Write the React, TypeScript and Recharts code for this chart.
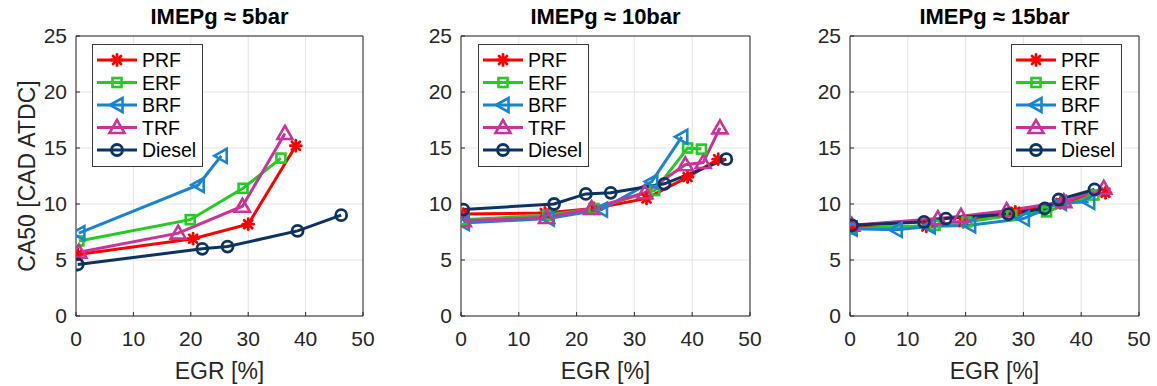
import React from 'react'
import { LineChart, Line, XAxis, YAxis, CartesianGrid, ReferenceLine, Legend } from 'recharts'

const EGR_TICKS = [0, 10, 20, 30, 40, 50]
const CA50_TICKS = [0, 5, 10, 15, 20, 25]
const FUELS = ['PRF', 'ERF', 'BRF', 'TRF', 'Diesel']

// IMEPg ~ 5 bar
const prf5Egr = [0.3, 20.4, 30.0, 38.3]
const prf5Ca50 = [5.5, 6.9, 8.2, 15.2]
const erf5Egr = [0.5, 19.9, 29.1, 35.7]
const erf5Ca50 = [6.7, 8.6, 11.4, 14.1]
const brf5Egr = [0.5, 21.3, 25.3]
const brf5Ca50 = [7.4, 11.7, 14.3]
const trf5Egr = [0.5, 17.8, 29.0, 36.4]
const trf5Ca50 = [5.7, 7.4, 9.8, 16.3]
const diesel5Egr = [0.3, 22.0, 26.4, 38.6, 46.2]
const diesel5Ca50 = [4.6, 6.0, 6.2, 7.6, 9.0]

// IMEPg ~ 10 bar
const prf10Egr = [0.4, 14.5, 23.0, 32.1, 39.2, 44.5]
const prf10Ca50 = [9.1, 9.2, 9.6, 10.5, 12.4, 14.0]
const erf10Egr = [0.4, 15.0, 23.0, 33.5, 39.2, 41.6]
const erf10Ca50 = [8.6, 9.0, 9.6, 11.2, 15.0, 14.9]
const brf10Egr = [0.4, 15.1, 24.3, 33.0, 38.2]
const brf10Ca50 = [8.3, 8.7, 9.5, 12.0, 16.0]
const trf10Egr = [0.4, 14.8, 22.6, 31.8, 38.8, 41.9, 44.8]
const trf10Ca50 = [8.5, 8.8, 9.6, 11.0, 13.5, 13.7, 16.8]
const diesel10Egr = [0.4, 16.1, 21.6, 25.9, 35.2, 45.9]
const diesel10Ca50 = [9.5, 10.0, 10.9, 11.0, 11.8, 14.0]

// IMEPg ~ 15 bar
const prf15Egr = [0.3, 13.2, 19.6, 28.6, 36.4, 44.2]
const prf15Ca50 = [7.9, 8.0, 8.4, 9.3, 10.1, 11.0]
const erf15Egr = [0.3, 14.7, 20.2, 28.0, 34.0, 42.2]
const erf15Ca50 = [7.8, 8.1, 8.4, 9.0, 9.3, 10.8]
const brf15Egr = [0.2, 8.0, 13.7, 20.7, 30.0, 36.4, 41.3]
const brf15Ca50 = [7.8, 7.7, 8.0, 8.1, 8.7, 10.1, 10.2]
const trf15Egr = [0.3, 15.2, 19.2, 27.1, 37.0, 43.9]
const trf15Ca50 = [8.1, 8.7, 8.9, 9.4, 10.2, 11.4]
const diesel15Egr = [0.35, 12.8, 16.6, 27.4, 33.7, 36.1, 42.3]
const diesel15Ca50 = [8.1, 8.4, 8.7, 9.1, 9.6, 10.4, 11.3]

const COLORS: Record<string, string> = {
  PRF: '#ff0000',
  ERF: '#22cc22',
  BRF: '#1a84d0',
  TRF: '#cc3399',
  Diesel: '#0c3461',
}
const SHAPES: Record<string, string> = {
  PRF: 'star',
  ERF: 'square',
  BRF: 'left',
  TRF: 'up',
  Diesel: 'circle',
}

const TEXT = '#262626'
const FONT = '"Liberation Sans", Arial, sans-serif'

const toPoints = (egr: number[], ca50: number[]) => egr.map((x, i) => ({ egr: x, ca50: ca50[i] }))

function Marker({ shape, cx, cy, color }: { shape: string; cx: number; cy: number; color: string }) {
  if (shape === 'star') {
    const r = 5.5
    const d = 4
    return (
      <g stroke={color} strokeWidth={2.8} strokeLinecap="round">
        <line x1={cx - r} y1={cy} x2={cx + r} y2={cy} />
        <line x1={cx} y1={cy - r} x2={cx} y2={cy + r} />
        <line x1={cx - d} y1={cy - d} x2={cx + d} y2={cy + d} />
        <line x1={cx - d} y1={cy + d} x2={cx + d} y2={cy - d} />
      </g>
    )
  }
  if (shape === 'square') {
    return <rect x={cx - 4.5} y={cy - 4.5} width={9} height={9} fill="none" stroke={color} strokeWidth={2.6} />
  }
  if (shape === 'left') {
    return (
      <polygon
        points={`${cx - 7},${cy} ${cx + 5.5},${cy - 7} ${cx + 5.5},${cy + 7}`}
        fill="none"
        stroke={color}
        strokeWidth={2.6}
      />
    )
  }
  if (shape === 'up') {
    return (
      <polygon
        points={`${cx},${cy - 7.5} ${cx - 7.5},${cy + 5.5} ${cx + 7.5},${cy + 5.5}`}
        fill="none"
        stroke={color}
        strokeWidth={2.6}
      />
    )
  }
  return <circle cx={cx} cy={cy} r={5.5} fill="none" stroke={color} strokeWidth={2.8} />
}

const makeDot = (name: string) => (props: any) => {
  const { cx, cy, index } = props
  if (cx == null || cy == null) return <g key={`dot-${name}-${index}`} />
  return (
    <g key={`dot-${name}-${index}`}>
      <Marker shape={SHAPES[name]} cx={cx} cy={cy} color={COLORS[name]} />
    </g>
  )
}

// legend box in the MATLAB style
function LegendBox() {
  const rows = [16, 38.5, 61, 83.5, 106]
  return (
    <svg width={111} height={123} style={{ display: 'block' }}>
      <rect x={0.5} y={0.5} width={110} height={122} fill="#fff" stroke="#3a3a3a" strokeWidth={1} />
      {FUELS.map((name, i) => (
        <g key={name}>
          <line x1={5} y1={rows[i]} x2={45} y2={rows[i]} stroke={COLORS[name]} strokeWidth={3} />
          <Marker shape={SHAPES[name]} cx={25} cy={rows[i]} color={COLORS[name]} />
          <text x={50} y={rows[i] + 7} fontSize={19.5} fill="#000" fontFamily={FONT}>
            {name}
          </text>
        </g>
      ))}
    </svg>
  )
}

type Series = { name: string; egr: number[]; ca50: number[] }

type PanelProps = {
  title: string
  left: number
  width: number
  yAxisWidth: number
  rightMargin: number
  legendLeft: number
  showYLabel: boolean
  series: Series[]
}

function Panel({ title, left, width, yAxisWidth, rightMargin, legendLeft, showYLabel, series }: PanelProps) {
  const plotLeft = yAxisWidth
  const plotRight = width - rightMargin
  return (
    <div style={{ position: 'absolute', left, top: 0, width, height: 386 }}>
      <div
        style={{
          position: 'absolute',
          left: plotLeft - 20,
          width: plotRight - plotLeft + 40,
          top: 4,
          textAlign: 'center',
          fontWeight: 'bold',
          fontSize: 22,
          color: '#000',
          fontFamily: FONT,
        }}
      >
        {title}
      </div>
      <LineChart width={width} height={386} margin={{ top: 36, right: rightMargin, bottom: 0, left: 0 }}>
        <CartesianGrid stroke="#e3e3e3" strokeWidth={1} />
        <XAxis
          type="number"
          dataKey="egr"
          domain={[0, 50]}
          ticks={EGR_TICKS}
          allowDataOverflow
          height={70}
          tickSize={-4}
          tickMargin={19}
          stroke={TEXT}
          tick={{ fill: TEXT, fontSize: 21, fontFamily: FONT }}
          label={{ value: 'EGR [%]', position: 'insideBottom', offset: 7, fill: TEXT, fontSize: 23, fontFamily: FONT }}
        />
        <YAxis
          type="number"
          dataKey="ca50"
          domain={[0, 25]}
          ticks={CA50_TICKS}
          allowDataOverflow
          width={yAxisWidth}
          tickSize={-4}
          tickMargin={13}
          stroke={TEXT}
          tick={{ fill: TEXT, fontSize: 21, fontFamily: FONT }}
          label={
            showYLabel
              ? {
                  value: 'CA50 [CAD ATDC]',
                  angle: -90,
                  position: 'insideLeft',
                  offset: 27,
                  fill: TEXT,
                  fontSize: 23,
                  fontFamily: FONT,
                  style: { textAnchor: 'middle' },
                }
              : undefined
          }
        />
        <ReferenceLine y={25} stroke={TEXT} strokeWidth={1} />
        <ReferenceLine x={50} stroke={TEXT} strokeWidth={1} />
        {series.map((s) => (
          <Line
            key={s.name}
            data={toPoints(s.egr, s.ca50)}
            dataKey="ca50"
            name={s.name}
            stroke={COLORS[s.name]}
            strokeWidth={3}
            dot={makeDot(s.name)}
            activeDot={false}
            isAnimationActive={false}
          />
        ))}
        <Legend
          layout="vertical"
          align="center"
          verticalAlign="middle"
          content={() => <LegendBox />}
          wrapperStyle={{ position: 'absolute', left: legendLeft, top: 44, width: 111, height: 123 }}
        />
      </LineChart>
    </div>
  )
}

export default function App() {
  return (
    <div style={{ position: 'absolute', left: 0, top: 0, width: 1157, height: 386, background: '#fff', fontFamily: FONT }}>
      <Panel
        title="IMEPg ≈ 5bar"
        left={0}
        width={384}
        yAxisWidth={76}
        rightMargin={21}
        legendLeft={92}
        showYLabel
        series={[
          { name: 'PRF', egr: prf5Egr, ca50: prf5Ca50 },
          { name: 'ERF', egr: erf5Egr, ca50: erf5Ca50 },
          { name: 'BRF', egr: brf5Egr, ca50: brf5Ca50 },
          { name: 'TRF', egr: trf5Egr, ca50: trf5Ca50 },
          { name: 'Diesel', egr: diesel5Egr, ca50: diesel5Ca50 },
        ]}
      />
      <Panel
        title="IMEPg ≈ 10bar"
        left={384}
        width={386}
        yAxisWidth={77}
        rightMargin={20}
        legendLeft={94}
        showYLabel={false}
        series={[
          { name: 'PRF', egr: prf10Egr, ca50: prf10Ca50 },
          { name: 'ERF', egr: erf10Egr, ca50: erf10Ca50 },
          { name: 'BRF', egr: brf10Egr, ca50: brf10Ca50 },
          { name: 'TRF', egr: trf10Egr, ca50: trf10Ca50 },
          { name: 'Diesel', egr: diesel10Egr, ca50: diesel10Ca50 },
        ]}
      />
      <Panel
        title="IMEPg ≈ 15bar"
        left={770}
        width={387}
        yAxisWidth={80}
        rightMargin={18}
        legendLeft={241}
        showYLabel={false}
        series={[
          { name: 'PRF', egr: prf15Egr, ca50: prf15Ca50 },
          { name: 'ERF', egr: erf15Egr, ca50: erf15Ca50 },
          { name: 'BRF', egr: brf15Egr, ca50: brf15Ca50 },
          { name: 'TRF', egr: trf15Egr, ca50: trf15Ca50 },
          { name: 'Diesel', egr: diesel15Egr, ca50: diesel15Ca50 },
        ]}
      />
    </div>
  )
}
